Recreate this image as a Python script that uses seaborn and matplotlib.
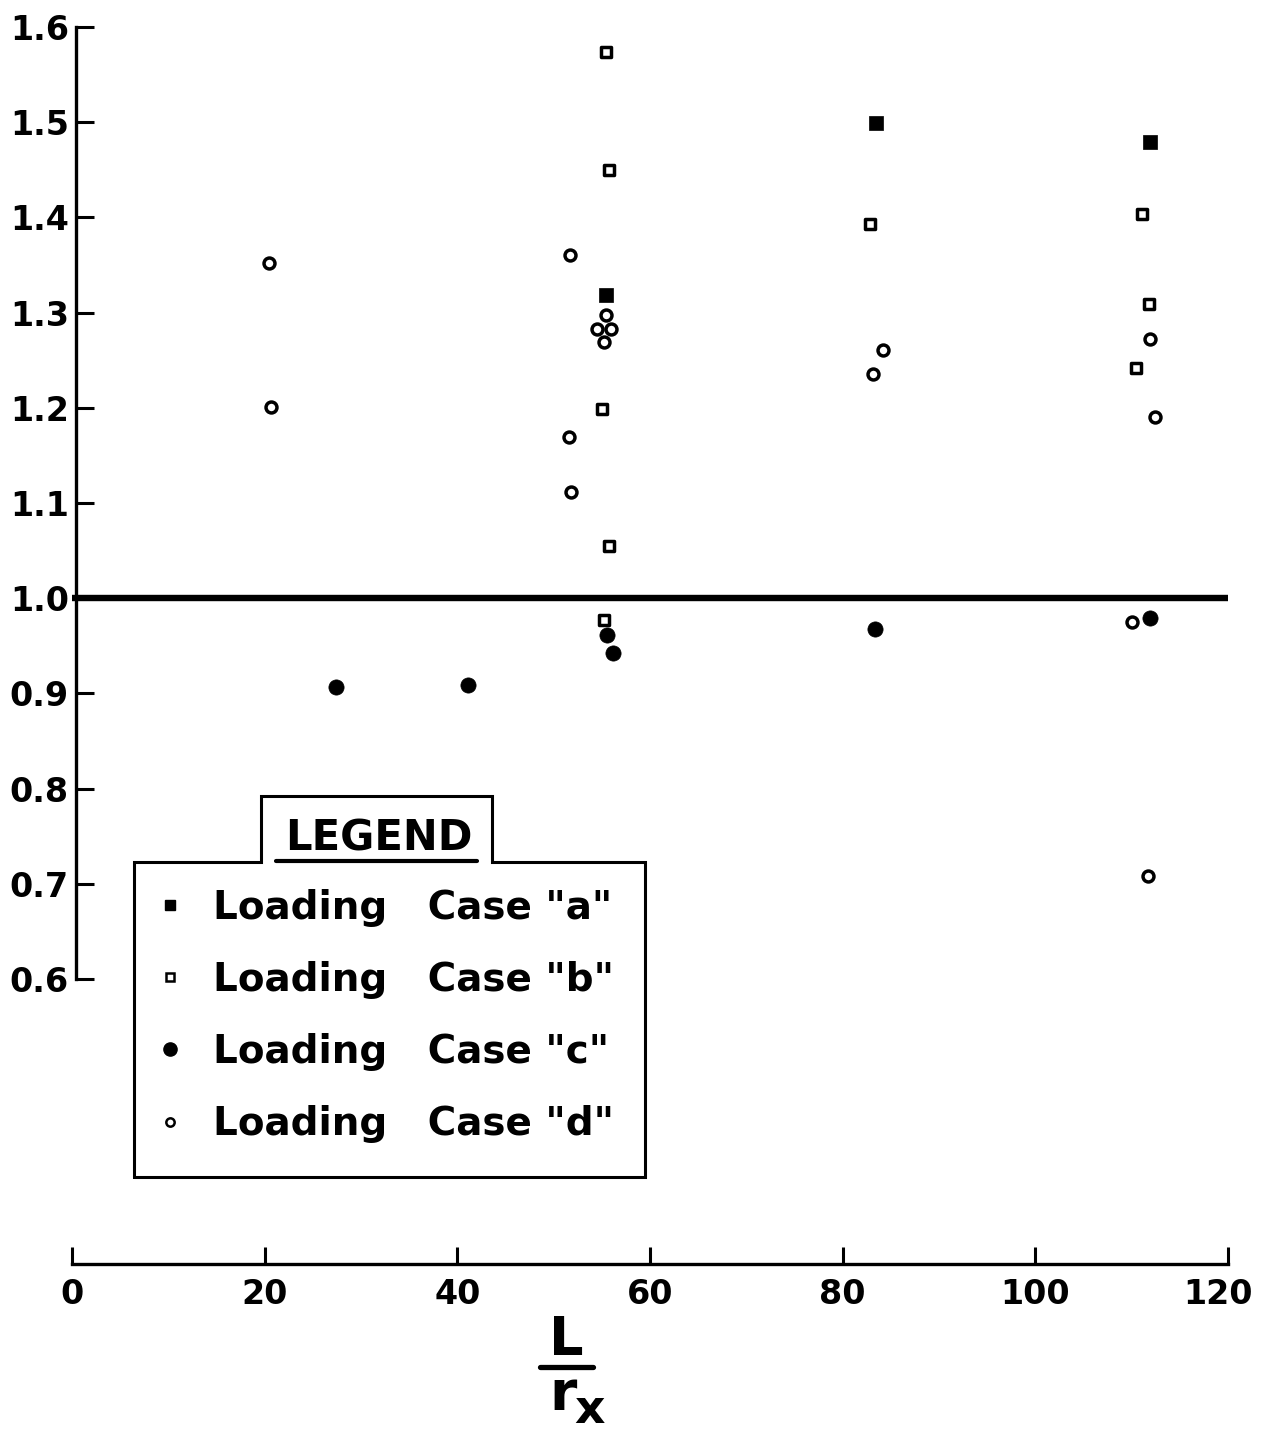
import matplotlib
matplotlib.use("Agg")
import matplotlib.pyplot as plt
from matplotlib.lines import Line2D
from matplotlib.transforms import ScaledTranslation
import seaborn as sns
import pandas as pd

# ---------------- data ----------------
case_a_x = [55.4, 83.5, 111.9]
case_a_y = [1.319, 1.499, 1.479]

case_b_x = [55.4, 55.7, 55.0, 55.7, 55.2, 82.8, 111.1, 111.8, 110.5]
case_b_y = [1.574, 1.450, 1.199, 1.055, 0.977, 1.393, 1.404, 1.309, 1.242]

case_c_x = [27.4, 41.1, 55.5, 56.2, 83.4, 111.9]
case_c_y = [0.907, 0.909, 0.961, 0.942, 0.968, 0.979]

case_d_x = [20.4, 20.7, 51.7, 51.6, 51.8, 55.4, 54.5, 56.0, 55.2, 83.2, 84.2,
            111.9, 112.4, 110.0, 111.7]
case_d_y = [1.352, 1.201, 1.360, 1.169, 1.112, 1.297, 1.283, 1.283, 1.269, 1.235,
            1.261, 1.272, 1.190, 0.975, 0.708]

case_labels = ['Loading   Case "a"', 'Loading   Case "b"',
               'Loading   Case "c"', 'Loading   Case "d"']
x_ticks = [0, 20, 40, 60, 80, 100, 120]
y_ticks = [0.6, 0.7, 0.8, 0.9, 1.0, 1.1, 1.2, 1.3, 1.4, 1.5, 1.6]
y_tick_labels = ["0.6", "0.7", "0.8", "0.9", "1.0", "1.1", "1.2", "1.3", "1.4", "1.5", "1.6"]
reference_value = 1.0

df = pd.concat([
    pd.DataFrame({"x": case_a_x, "y": case_a_y, "case": "a"}),
    pd.DataFrame({"x": case_b_x, "y": case_b_y, "case": "b"}),
    pd.DataFrame({"x": case_c_x, "y": case_c_y, "case": "c"}),
    pd.DataFrame({"x": case_d_x, "y": case_d_y, "case": "d"}),
], ignore_index=True)

# ---------------- style ----------------
sns.set_theme(style="white")
plt.rcParams["font.family"] = ["DejaVu Sans"]
plt.rcParams["font.weight"] = "bold"

W, H = 1261, 1435
fig = plt.figure(figsize=(W / 100, H / 100), dpi=100)
fig.patch.set_facecolor("white")

def fx(px):
    return px / W

def fy(py):
    return 1 - py / H

ax = fig.add_axes([fx(72), fy(1264), fx(1228) - fx(72), fy(27) - fy(1264)])
ax.set_facecolor("white")

styles = {
    "a": dict(marker="s", s=90, facecolor="black", edgecolor="black", linewidth=0.5),
    "b": dict(marker="s", s=62, facecolor="white", edgecolor="black", linewidth=2.5),
    "c": dict(marker="o", s=120, facecolor="black", edgecolor="black", linewidth=0.5),
    "d": dict(marker="o", s=62, facecolor="white", edgecolor="black", linewidth=2.5),
}
for case, st in styles.items():
    sub = df[df["case"] == case]
    sns.scatterplot(data=sub, x="x", y="y", ax=ax, legend=False, clip_on=False,
                    zorder=3, **st)

ax.axhline(reference_value, color="black", linewidth=4.6, zorder=2,
           solid_capstyle="round")

ax.set_xlim(0, 120)
ax.set_ylim(0.3006, 1.6)
ax.set_xticks(x_ticks)
ax.set_xticklabels([str(t) for t in x_ticks])
ax.set_yticks(y_ticks)
ax.set_yticklabels(y_tick_labels)
ax.set_xlabel("")
ax.set_ylabel("")

for side in ["top", "right"]:
    ax.spines[side].set_visible(False)
ax.spines["left"].set_bounds(0.6, 1.6)
ax.spines["left"].set_position(("data", 0.4))
ax.spines["left"].set_linewidth(2.4)
ax.spines["bottom"].set_linewidth(2.4)
ax.spines["left"].set_color("black")
ax.spines["bottom"].set_color("black")

ax.tick_params(axis="y", direction="in", length=13, width=2.2, pad=5,
               labelsize=24, colors="black", left=True)
ax.tick_params(axis="x", direction="in", length=12, width=2.2, pad=10,
               labelsize=24, colors="black", bottom=True)
for lab in ax.get_xticklabels() + ax.get_yticklabels():
    lab.set_fontweight("bold")
# nudge the last x tick label so it stays inside the figure, as in the reference
last = ax.get_xticklabels()[-1]
last.set_transform(last.get_transform() + ScaledTranslation(-0.10, 0, fig.dpi_scale_trans))

# ---------------- legend ----------------
handles = [
    Line2D([], [], linestyle="none", marker="s", markersize=7.5,
           markerfacecolor="black", markeredgecolor="black"),
    Line2D([], [], linestyle="none", marker="s", markersize=6,
           markerfacecolor="white", markeredgecolor="black", markeredgewidth=1.8),
    Line2D([], [], linestyle="none", marker="o", markersize=9.5,
           markerfacecolor="black", markeredgecolor="black"),
    Line2D([], [], linestyle="none", marker="o", markersize=6,
           markerfacecolor="white", markeredgecolor="black", markeredgewidth=1.8),
]
leg = ax.legend(handles, case_labels, loc="upper left",
                bbox_to_anchor=(fx(135), fy(873)), bbox_transform=fig.transFigure,
                frameon=False, prop={"size": 28, "weight": "bold"},
                handlelength=1.0, handletextpad=0.6, labelspacing=0.88,
                borderpad=0.4, borderaxespad=0.0)
for t in leg.get_texts():
    t.set_color("black")

# legend outline with tab
pts = [(134, 1177), (134, 862), (261, 862), (261, 796), (492, 796),
       (492, 862), (645, 862), (645, 1177), (134, 1177)]
fig.add_artist(Line2D([fx(p[0]) for p in pts], [fy(p[1]) for p in pts],
                      transform=fig.transFigure, color="black", linewidth=2.2,
                      solid_joinstyle="miter"))
fig.text(fx(379), fy(839), "LEGEND", ha="center", va="center",
         fontsize=30, fontweight="bold", color="black")
fig.add_artist(Line2D([fx(276), fx(477)], [fy(861), fy(861)],
                      transform=fig.transFigure, color="black", linewidth=3.0))

# ---------------- x label (L / r_x) ----------------
fig.text(fx(566), fy(1355), "L", ha="center", va="baseline",
         fontsize=39, fontweight="bold", color="black")
fig.add_artist(Line2D([fx(540), fx(593)], [fy(1367), fy(1367)],
                      transform=fig.transFigure, color="black", linewidth=3.8,
                      solid_capstyle="round"))
fig.text(fx(549), fy(1410), "r", ha="left", va="baseline",
         fontsize=40, fontweight="bold", color="black")
fig.text(fx(574), fy(1423), "x", ha="left", va="baseline",
         fontsize=34, fontweight="bold", color="black")

fig.savefig("out.png", dpi=100, facecolor="white")
